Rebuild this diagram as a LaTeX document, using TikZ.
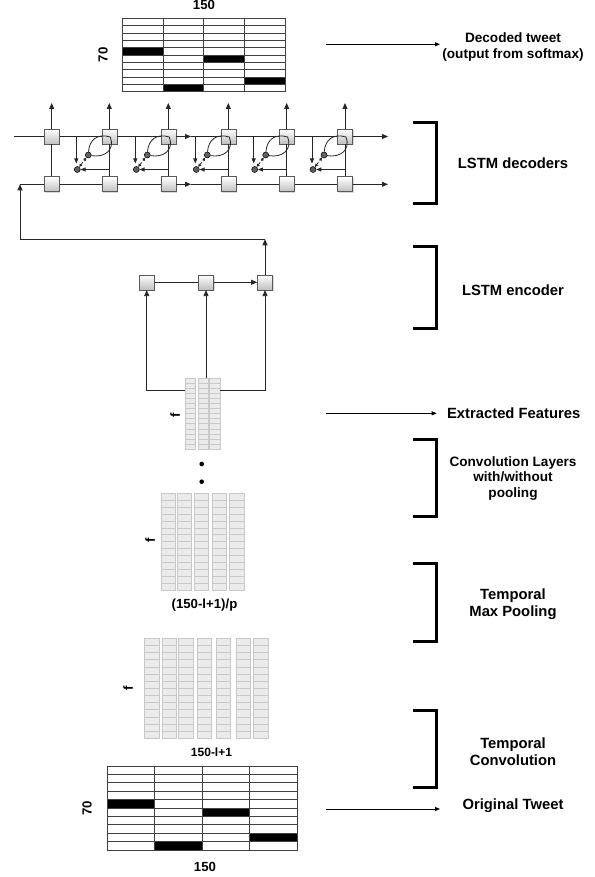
\documentclass[tikz,border=0pt]{standalone}
\usepackage{fontspec}
\setmainfont{Liberation Sans}
\usetikzlibrary{arrows.meta,shadows}
\definecolor{featfill}{RGB}{235,235,235}
\definecolor{featline}{RGB}{200,200,200}
\newcommand\tweetgrid[4]{%
  \foreach \cc/\rr in {0/4,1/9,2/5,3/8}
    \fill[black] ({#1+\cc*#3},{#2+\rr*#4}) rectangle ++(#3,#4);
  \foreach \rr in {1,...,9} \draw[gridln] (#1,{#2+\rr*#4}) -- ++({4*#3},0);
  \foreach \cc in {1,...,3} \draw[gridln] ({#1+\cc*#3},#2) -- ++(0,{10*#4});
  \draw[gridln] (#1,#2) rectangle ++({4*#3},{10*#4});
}
\newcommand\featcol[4]{%
  \fill[featfill] (#1,#2) rectangle ++(#3,#4);
  \foreach \rr in {1,...,13} \draw[featline,line width=0.6pt] (#1,{#2+\rr*#4/14}) -- ++(#3,0);
  \draw[featline,line width=0.8pt] (#1,#2) rectangle ++(#3,#4);
}
\begin{document}
\begin{tikzpicture}[x=1pt,y=-1pt,
  tip/.style={-{Triangle[length=6pt,width=5pt]}},
  stip/.style={-{Triangle[length=5pt,width=4pt]}},
  ln/.style={line width=0.8pt,draw=black!85},
  gridln/.style={line width=0.8pt,draw=black!75},
  cell/.style={draw=black!65,line width=0.6pt,minimum size=15pt,inner sep=0pt,
    top color=white,bottom color=black!25,
    drop shadow={shadow xshift=1pt,shadow yshift=-1.5pt,opacity=0.3}},
  gate/.style={circle,draw=black,line width=0.5pt,fill=black!62,minimum size=6pt,inner sep=0pt},
  brk/.style={line width=3pt},
  lab/.style={font=\fontsize{14.8}{17}\selectfont\bfseries,align=center},
  labs/.style={font=\fontsize{13.6}{16}\selectfont\bfseries,align=center},
  dimlab/.style={font=\fontsize{13.2}{15}\selectfont\bfseries},
]
\useasboundingbox (0,0) rectangle (594,877);

% ---------------- top matrix (decoded tweet)
\tweetgrid{122.7}{18.3}{40.58}{7.34}
\node[dimlab] (top150) at (204,5) {150};
\node[dimlab,rotate=90] (top70) at (103,55) {70};

% ---------------- bottom matrix (original tweet)
\tweetgrid{107.3}{766}{47.5}{8.4}
\node[dimlab] (bot150) at (205,867) {150};
\node[dimlab,rotate=90] (bot70) at (87,808) {70};

% ---------------- temporal convolution maps
\foreach \xx/\ww in {144/15,162.3/14,178.3/15.5,197.3/14,216.3/14.5,236.3/14,253.3/15}
  \featcol{\xx}{638.3}{\ww}{100};
\node[dimlab,font=\fontsize{12}{14}\selectfont\bfseries] (convlab) at (211.5,752) {150-l+1};
\node[dimlab,rotate=90] (fconv) at (128,688) {f};

% ---------------- max pooling maps
\foreach \xx in {161,177,194.3,212,229.5}
  \featcol{\xx}{493.3}{14.5}{96.7};
\node[dimlab] (poollab) at (204.5,605) {(150-l+1)/p};
\node[dimlab,rotate=90] (fpool) at (150,540) {f};

% dots
\fill (201.7,464) circle (2.3);
\fill (201.7,481.7) circle (2.3);

% ---------------- extracted features
\featcol{185.3}{378.3}{10.4}{70.7}
\featcol{198.3}{378.3}{10.2}{70.7}
\featcol{209}{378.3}{11}{70.7}
\node[dimlab,rotate=90] (ffeat) at (175,415) {f};
\coordinate (fL) at (185.3,390.7);
\coordinate (fR) at (220,390.7);
\coordinate (fT) at (206,378.3);

% ---------------- LSTM encoder
\node[cell] (e1) at (146.7,282.3) {};
\node[cell] (e2) at (206,282.3) {};
\node[cell] (e3) at (265,282.3) {};
\draw[ln,tip] (fL) -| (e1);
\draw[ln,tip] (fT) -- (e2);
\draw[ln,tip] (fR) -| (e3);
\draw[ln] (e1) -- (e2);
\draw[ln,tip] (e2) -- (e3);
\coordinate (up) at (265,239.3);
\coordinate (upl) at (20,239.3);
\coordinate (bin) at (20,184.3);
\draw[ln,tip] (e3) -- (up);
\draw[ln] (up) -- (upl);
\draw[ln,tip] (upl) -- (bin);

% ---------------- LSTM decoders
\coordinate (tin) at (14,136.5);
\coordinate (tm) at (191,136.5);
\coordinate (tout) at (388,136.5);
\coordinate (bm) at (191,184.3);
\coordinate (bout) at (388,184.3);
\foreach \x [count=\i] in {51.7,109.3,168.3,228.3,286.7,345}{
  \node[cell] (t\i) at (\x,136.5) {};
  \node[cell] (b\i) at (\x,184.3) {};
  \coordinate (o\i) at (\x,103);
}
\draw[ln] (tin) -- (t1) -- (t2) -- (t3);
\draw[ln,tip] (t3) -- (tm);
\draw[ln] (tm) -- (t4) -- (t5) -- (t6);
\draw[ln,tip] (t6) -- (tout);
\draw[ln] (bin) -- (b1) -- (b2) -- (b3);
\draw[ln,tip] (b3) -- (bm);
\draw[ln] (bm) -- (b4) -- (b5) -- (b6);
\draw[ln,tip] (b6) -- (bout);
\foreach \x [count=\i] in {51.7,109.3,168.3,228.3,286.7,345}{
  \draw[ln,tip] (t\i) -- (o\i);
  \draw[ln] (t\i) -- (b\i);
  \ifnum\i>1
    \coordinate (ds\i) at ({\x-33},136.5);
    \coordinate (de\i) at ({\x-33},163.5);
    \coordinate (br\i) at (\x,169.5);
    \coordinate (lt\i) at ({\x+1},137);
    \node[gate] (ca\i) at ({\x-32},169.5) {};
    \node[gate] (cb\i) at ({\x-21},155) {};
    \draw[ln,stip] (ds\i) -- (de\i);
    \draw[ln,stip] (br\i) -- (ca\i);
    \draw[ln,densely dashed,{Triangle[length=3pt,width=3pt]}-{Triangle[length=3pt,width=3pt]}] (ca\i) -- (cb\i);
    \draw[ln] (cb\i) .. controls ({\x-20},140) and ({\x-12},133) .. (lt\i)
                     .. controls ({\x+6},150) and ({\x-5},158) .. (cb\i);
  \fi
}

% ---------------- right side labels, arrows and brackets
\node[labs] (ldec) at (513,46.5) {Decoded tweet\\(output from softmax)};
\coordinate (a1s) at (326,44.3);
\coordinate (a1e) at (440,44.3);
\draw[line width=0.8pt,stip] (a1s) -- (a1e);

\draw[brk] (413.3,122.7) -- (436.7,122.7) -- (436.7,203.3) -- (413.3,203.3);
\node[lab] (llstmd) at (513,163) {LSTM decoders};

\draw[brk] (413.3,246.7) -- (436.7,246.7) -- (436.7,328.3) -- (413.3,328.3);
\node[lab] (llstme) at (513,290) {LSTM encoder};

\node[lab] (lext) at (513.7,413.3) {Extracted Features};
\coordinate (a2s) at (326,413.3);
\coordinate (a2e) at (436.7,413.3);
\draw[line width=0.8pt,stip] (a2s) -- (a2e);

\draw[brk] (413.3,439.3) -- (436.7,439.3) -- (436.7,516.7) -- (413.3,516.7);
\node[labs,font=\fontsize{13.6}{15.5}\selectfont\bfseries] (lconv) at (513,478.5) {Convolution Layers\\with/without\\pooling};

\draw[brk] (413.3,563.3) -- (436.7,563.3) -- (436.7,641.7) -- (413.3,641.7);
\node[lab] (lpool) at (513,604.5) {Temporal\\Max Pooling};

\draw[brk] (413.3,710) -- (436.7,710) -- (436.7,787.7) -- (413.3,787.7);
\node[lab] (ltc) at (513,752) {Temporal\\Convolution};

\node[lab] (lorig) at (513,806) {Original Tweet};
\coordinate (a3s) at (326,809);
\coordinate (a3e) at (440,809);
\draw[line width=0.8pt,stip] (a3s) -- (a3e);
\end{tikzpicture}
\end{document}
